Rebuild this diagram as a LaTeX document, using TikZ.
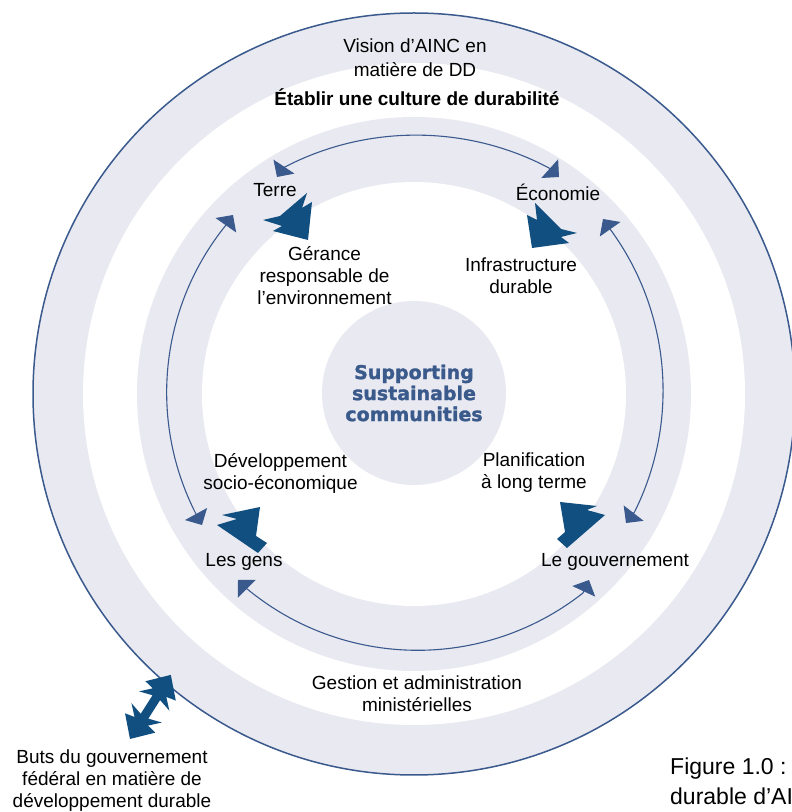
\documentclass[tikz,border=0pt]{standalone}
\usepackage{fontspec}
\setmainfont{Liberation Sans}
\newfontfamily\heavyfont[BoldFeatures={FakeBold=1.5}]{DejaVu Sans}
\usetikzlibrary{arrows.meta}
\definecolor{ringgrey}{HTML}{E9E9F1}
\definecolor{lineblue}{HTML}{3A5A8E}
\definecolor{headblue}{HTML}{114F80}
\definecolor{titleblue}{HTML}{3B5A8C}

\begin{document}
\begin{tikzpicture}[x=1pt,y=1pt,
  lbl/.style={font=\fontsize{19}{22}\selectfont, align=center, inner sep=0pt},
  link/.style={draw=lineblue, line width=1.1pt, >={Triangle[width=25pt,length=12.5pt]}, <->},
  head/.style={fill=headblue},
]
\clip (0,0) rectangle (792,812);
\fill[white] (0,0) rectangle (792,812);

% concentric rings
\coordinate (c) at (414,418);
\fill[ringgrey] (c) circle[radius=381];
\fill[white] (c) circle[radius=331];
\fill[ringgrey] (c) circle[radius=277];
\fill[white] (c) circle[radius=212];
\draw[lineblue, line width=1.5pt] (c) circle[radius=381];

% core
\node[circle, fill=ringgrey, minimum size=184pt, inner sep=0pt, align=center,
      text=titleblue, font=\heavyfont\bfseries\fontsize{19}{21}\selectfont]
      (core) at (414,419) {Supporting\\sustainable\\communities};

% labels
\node[lbl, font=\fontsize{19}{24}\selectfont] (vision) at (415,754) {Vision d’AINC en\\matière de DD};
\node[lbl, font=\bfseries\fontsize{19}{22}\selectfont] (culture) at (417,715) {Établir une culture de durabilité};
\node[lbl] (terre) at (275,622) {Terre};
\node[lbl] (eco) at (558,620) {Économie};
\node[lbl] (gerance) at (324.5,536) {Gérance\\responsable de\\l’environnement};
\node[lbl] (infra) at (521,536) {Infrastructure\\durable};
\node[lbl] (devel) at (280.5,339) {Développement\\socio-économique};
\node[lbl] (planif) at (534,339) {Planification\\à long terme};
\node[lbl] (gens) at (244,250) {Les gens};
\node[lbl] (gouv) at (615,250) {Le gouvernement};
\node[lbl] (gestion) at (417,118) {Gestion et administration\\ministérielles};
\node[lbl] (buts) at (112,31) {Buts du gouvernement\\fédéral en matière de\\développement durable};
\node[lbl, font=\fontsize{23}{30}\selectfont, align=left, anchor=west] (caption) at (670,31) {Figure 1.0 :\\durable d’AINC};

% thin connectors between the four pillars
\coordinate (tl) at (277,635);  \coordinate (tlb) at (283,644);
\coordinate (trb) at (549,644); \coordinate (tr) at (559,635);
\draw[link] (tl) -- (tlb) to[bend left=28, looseness=0.9] (trb) -- (tr);

\coordinate (lt) at (233,597);  \coordinate (ltb) at (226,587);
\coordinate (lbb) at (196,298); \coordinate (lb) at (202,287);
\draw[link] (lt) -- (ltb) to[bend right=33, looseness=0.93] (lbb) -- (lb);

\coordinate (rt) at (603,593);    \coordinate (rtb) at (610,583);
\coordinate (rbb) at (634.5,300); \coordinate (rb) at (626,289);
\draw[link] (rt) -- (rtb) to[bend left=31.5, looseness=0.92] (rbb) -- (rb);

\coordinate (bl) at (238,232);  \coordinate (blb) at (246,224);
\coordinate (brb) at (583,219); \coordinate (br) at (589,232);
\draw[link] (bl) -- (blb) to[bend right=39, looseness=0.96] (brb) -- (br);

% barbed heads pointing to the pillars
\fill[head] (263,592) -- (280,596) -- (307,619) -- (302,604) -- (312,610)
  -- (308,572) -- (273,581) -- (282,586) -- cycle;
\fill[head] (577,579) -- (561,583) -- (535,609) -- (537,592) -- (527,597)
  -- (532,564) -- (569,569) -- (561,575) -- cycle;
\fill[head] (258,259) -- (217,287) -- (237,293) -- (222,297) -- (260,305)
  -- (256,276) -- (267,269) -- cycle;
\fill[head] (567,264) -- (605,297) -- (587,302) -- (597,306) -- (560,310)
  -- (565,280) -- (557,273) -- cycle;

% double barbed arrow across the outer ring
\begin{scope}[shift={(130,73)}, rotate=57.5]
\fill[head] (0,0) -- (19,18) -- (21,8) -- (31,18) -- (27,4.5) -- (49,4.5)
  -- (45,18) -- (55,8) -- (57,18) -- (76,0) -- (57,-18) -- (55,-8) -- (45,-18)
  -- (49,-4.5) -- (27,-4.5) -- (31,-18) -- (21,-8) -- (19,-18) -- cycle;
\end{scope}
\end{tikzpicture}
\end{document}
